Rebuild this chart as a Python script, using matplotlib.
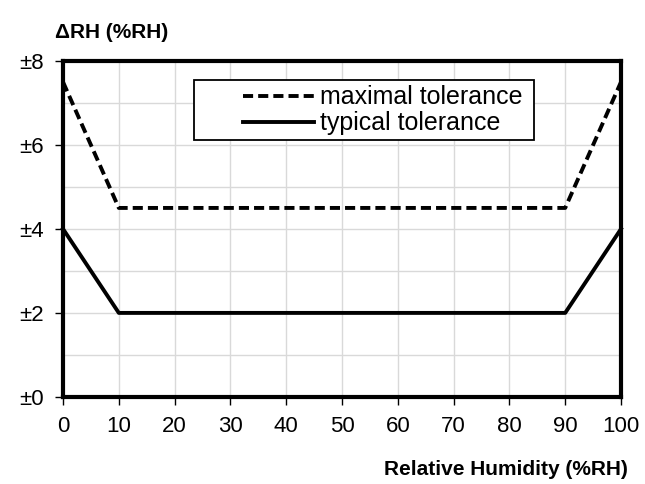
import matplotlib
matplotlib.use("Agg")
import matplotlib.pyplot as plt
from matplotlib.patches import Rectangle

plt.rcParams['font.family'] = ["Liberation Sans", "DejaVu Sans"]

rh = [0, 10, 90, 100]
maximal = [7.5, 4.5, 4.5, 7.5]
typical = [4, 2, 2, 4]
xticks = list(range(0, 101, 10))
yticks = [0, 2, 4, 6, 8]
ylabels = ["±0", "±2", "±4", "±6", "±8"]

fig = plt.figure(figsize=(6.45, 4.84), dpi=100)
ax = fig.add_axes([0.0977, 0.180, 0.8651, 0.694])

ax.plot(rh, maximal, color="black", lw=2.8, ls=(0, (2.6, 1.3)), label="maximal tolerance",
        clip_on=False, zorder=3)
ax.plot(rh, typical, color="black", lw=2.8, label="typical tolerance", clip_on=False, zorder=3)

ax.set_xlim(0, 100)
ax.set_ylim(0, 8)
ax.set_xticks(xticks)
ax.set_xticklabels([str(v) for v in xticks])
ax.set_yticks(yticks)
ax.set_yticklabels(ylabels)
ax.set_yticks(range(0, 9), minor=True)
ax.tick_params(axis="y", which="minor", length=0)
ax.grid(True, which="both", color="#d9d9d9", lw=1.0)
ax.set_axisbelow(True)
ax.tick_params(axis="both", which="major", direction="out", length=6, width=1, labelsize=16)
ax.tick_params(axis="x", pad=8)
ax.tick_params(axis="y", pad=8)
for s in ax.spines.values():
    s.set_linewidth(3)
    s.set_color("black")

# legend frame
ax.add_patch(Rectangle((0.235, 0.765), 0.609, 0.178, transform=ax.transAxes,
                       facecolor="white", edgecolor="black", lw=1.3, zorder=4))
leg = ax.legend(loc="center left", bbox_to_anchor=(0.3226, 0.853),
                fontsize=18, frameon=False, handlelength=2.84, handletextpad=0.25,
                borderpad=0, labelspacing=0.08, borderaxespad=0)
leg.set_zorder(5)

fig.text(0.085, 0.932, "ΔRH (%RH)", fontsize=15, fontweight="bold", ha="left", va="center")
fig.text(0.974, 0.029, "Relative Humidity (%RH)", fontsize=15, fontweight="bold", ha="right", va="center")

fig.savefig("out.png", dpi=100)
